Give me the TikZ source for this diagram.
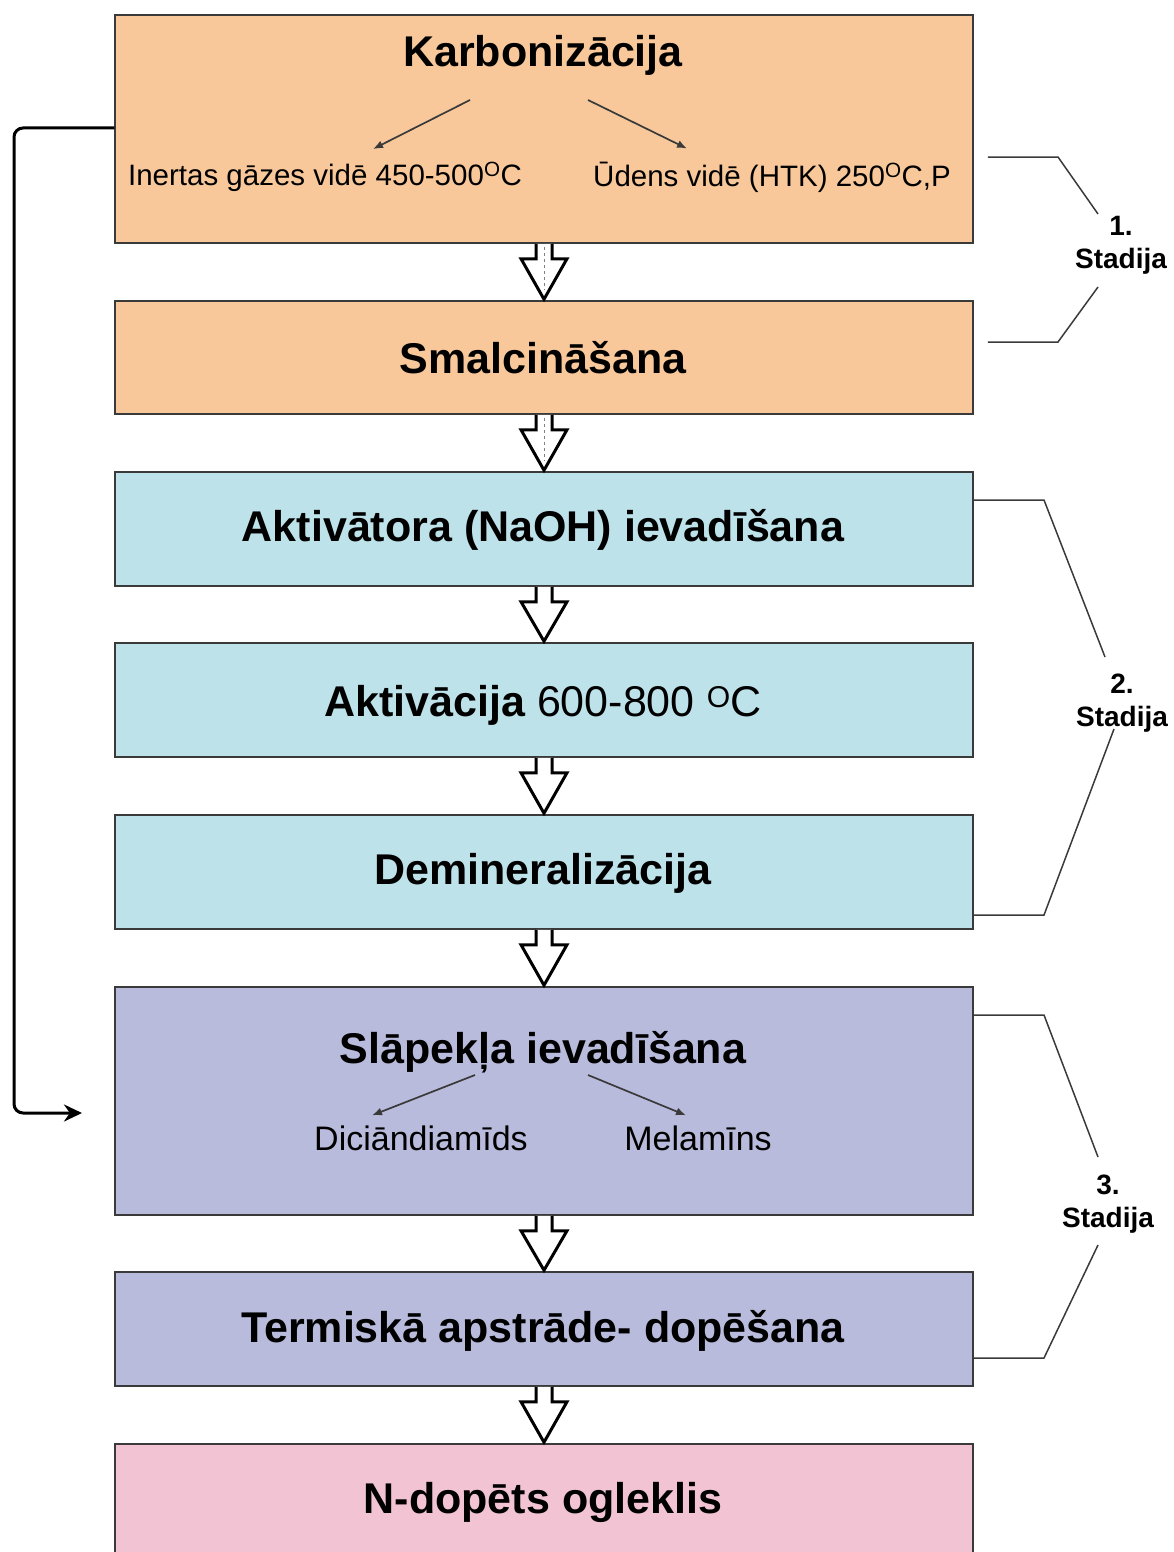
\documentclass[tikz,border=0pt]{standalone}
\usepackage{fontspec}
\setmainfont{Liberation Sans}
\usetikzlibrary{calc,arrows.meta}
\definecolor{orangebox}{HTML}{F8C89B}
\definecolor{bluebox}{HTML}{BEE2EA}
\definecolor{lavbox}{HTML}{B9BBDC}
\definecolor{pinkbox}{HTML}{F2C3D3}
\definecolor{edgegray}{HTML}{3A3A3A}
\newcommand\degO{\textsuperscript{O}}
\newcommand\harrow[2]{%
  \draw[hollow] ($(#1.south)+(-8,0)$) -- ++(0,15) -- ++(-15,0) -- ($(#2.north)+(0,-1)$)
    -- ($(#1.south)+(23,15)$) -- ++(-15,0) -- ($(#1.south)+(8,0)$);}
\begin{document}
\begin{tikzpicture}[x=1pt,y=-1pt,
  box/.style={draw=edgegray, line width=1.5pt, minimum width=858pt, inner sep=0pt, rectangle},
  ttl/.style={font=\fontsize{43}{47}\selectfont\bfseries, inner sep=0pt},
  subtxt/.style={font=\fontsize{29.5}{34}\selectfont, inner sep=0pt},
  subtxtb/.style={font=\fontsize{34}{38}\selectfont, inner sep=0pt},
  stagetxt/.style={font=\fontsize{28}{33}\selectfont\bfseries, align=center, inner sep=0pt},
  small/.style={draw=edgegray, line width=1.7pt, -{Latex[length=10pt,width=8pt]}},
  hollow/.style={draw=black, line width=3pt, fill=white, line join=miter},
  fb/.style={draw=black, line width=3pt, rounded corners=9pt, -{Stealth[length=18pt,width=17pt]}},
  br/.style={draw=edgegray, line width=1.5pt},
]
\useasboundingbox (0,0) rectangle (1174,1552);
\clip (0,0) rectangle (1174,1552);

% boxes
\node[box, fill=orangebox, minimum height=228pt] (b1) at (544,129) {};
\node[box, fill=orangebox, minimum height=113pt] (b2) at (544,357.5) {};
\node[box, fill=bluebox, minimum height=114pt] (b3) at (544,529) {};
\node[box, fill=bluebox, minimum height=114pt] (b4) at (544,700) {};
\node[box, fill=bluebox, minimum height=114pt] (b5) at (544,872) {};
\node[box, fill=lavbox, minimum height=228pt] (b6) at (544,1101) {};
\node[box, fill=lavbox, minimum height=114pt] (b7) at (544,1329) {};
\node[box, fill=pinkbox, minimum height=114pt] (b8) at (544,1501) {};

% texts
\node[ttl] (t1) at (543,55) {Karbonizācija};
\node[subtxt] (i1) at (325,177) {Inertas gāzes vidē 450-500\degO C};
\node[subtxt] (i2) at (772,177) {Ūdens vidē (HTK) 250\degO C,P};
\node[ttl] (t2) at (543,358) {Smalcināšana};
\node[ttl] (t3) at (543,530) {Aktivātora (NaOH) ievadīšana};
\node[ttl] (t4) at (543,705) {Aktivācija \mdseries 600-800 \degO C};
\node[ttl] (t5) at (543,873) {Demineralizācija};
\node[ttl] (t6) at (543,1052) {Slāpekļa ievadīšana};
\node[subtxtb] (n1) at (421,1138) {Diciāndiamīds};
\node[subtxtb] (n2) at (698,1138) {Melamīns};
\node[ttl] (t7) at (543,1331) {Termiskā apstrāde- dopēšana};
\node[ttl] (t8) at (543,1502) {N-dopēts ogleklis};

% small arrows
\coordinate (k1) at (470,100);
\coordinate (k2) at (588,100);
\draw[small] (k1) -- ($(i1.north)+(48,-13)$);
\draw[small] (k2) -- ($(i2.north)+(-85,-13)$);
\coordinate (s1a) at (475,1075);
\coordinate (s2a) at (588,1075);
\draw[small] (s1a) -- ($(n1.north)+(-49,-10)$);
\draw[small] (s2a) -- ($(n2.north)+(-12,-10)$);

% hollow arrows
\harrow{b1}{b2}
\draw[gray, line width=1pt, dash pattern=on 3pt off 3pt] ($(b1.south)+(0,3)$) -- ($(b2.north)+(0,-10)$);
\harrow{b2}{b3}
\draw[gray, line width=1pt, dash pattern=on 3pt off 3pt] ($(b2.south)+(0,3)$) -- ($(b3.north)+(0,-10)$);
\harrow{b3}{b4}
\harrow{b4}{b5}
\harrow{b5}{b6}
\harrow{b6}{b7}
\harrow{b7}{b8}

% feedback line
\coordinate (fbend) at (82,1113);
\draw[fb] ($(b1.west)+(0,-1)$) -- (14,128) -- (14,1113) -- (fbend);

% stage brackets
\node[stagetxt] (st1) at (1121,245) {1.\\Stadija};
\node[stagetxt] (st2) at (1122,703) {2.\\Stadija};
\node[stagetxt] (st3) at (1108,1204) {3.\\Stadija};
\draw[br] ($(b1.east)+(14,28)$) -- (1058,157) -- (1098,214);
\draw[br] (1098,287) -- (1058,342) -- ($(b2.east)+(14,-15.5)$);
\draw[br] ($(b3.east)+(0,-29)$) -- (1044,500) -- (1105,657);
\draw[br] (1114,729) -- (1044,915) -- ($(b5.east)+(0,43)$);
\draw[br] ($(b6.east)+(0,-86)$) -- (1044,1015) -- (1098,1157);
\draw[br] (1098,1245) -- (1044,1358) -- ($(b7.east)+(0,29)$);
\end{tikzpicture}
\end{document}
